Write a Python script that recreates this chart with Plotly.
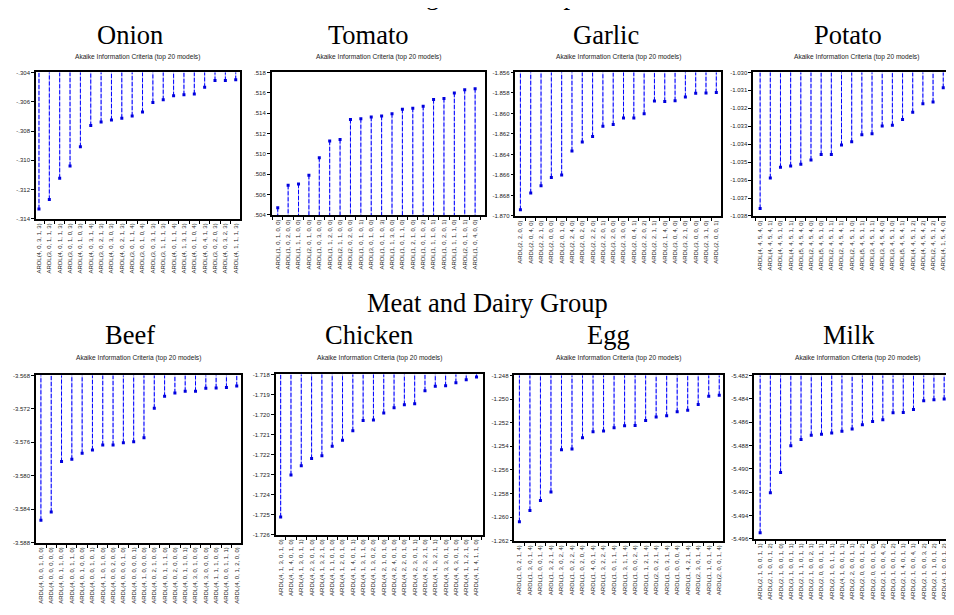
import plotly.graph_objects as go

W, H = 954, 615

# ---------------- data ----------------
onion_labels = ["ARDL(4, 0, 3, 1, 3)", "ARDL(3, 0, 1, 1, 3)", "ARDL(4, 0, 1, 1, 3)", "ARDL(3, 0, 1, 0, 3)",
                "ARDL(4, 0, 1, 0, 3)", "ARDL(4, 0, 3, 1, 4)", "ARDL(3, 0, 2, 1, 3)", "ARDL(4, 0, 3, 0, 3)",
                "ARDL(4, 0, 2, 1, 3)", "ARDL(3, 0, 1, 1, 4)", "ARDL(3, 0, 1, 0, 4)", "ARDL(3, 0, 3, 1, 3)",
                "ARDL(3, 1, 1, 1, 3)", "ARDL(4, 0, 1, 1, 4)", "ARDL(4, 1, 3, 1, 3)", "ARDL(4, 0, 1, 0, 4)",
                "ARDL(4, 0, 4, 1, 3)", "ARDL(3, 0, 2, 0, 3)", "ARDL(4, 0, 3, 2, 3)", "ARDL(4, 1, 1, 1, 3)"]
onion_aic = [-0.31332, -0.31267, -0.31122, -0.31039, -0.30908, -0.30763, -0.30739, -0.30725, -0.30712, -0.30698,
             -0.30671, -0.30605, -0.30587, -0.30560, -0.30553, -0.30547, -0.30502, -0.30456, -0.30456, -0.30450]
onion_yticks = ["-.314", "-.312", "-.310", "-.308", "-.306", "-.304"]

tomato_labels = ["ARDL(1, 0, 1, 0, 0)", "ARDL(1, 0, 2, 0, 0)", "ARDL(1, 1, 1, 0, 0)", "ARDL(2, 0, 1, 0, 0)",
                 "ARDL(1, 0, 3, 0, 0)", "ARDL(1, 1, 2, 0, 0)", "ARDL(2, 1, 1, 0, 0)", "ARDL(2, 0, 2, 0, 0)",
                 "ARDL(1, 0, 1, 0, 1)", "ARDL(3, 0, 1, 0, 0)", "ARDL(1, 0, 1, 0, 3)", "ARDL(1, 1, 3, 0, 0)",
                 "ARDL(1, 0, 1, 1, 0)", "ARDL(1, 2, 1, 0, 0)", "ARDL(1, 0, 1, 0, 2)", "ARDL(1, 1, 1, 0, 1)",
                 "ARDL(1, 0, 2, 0, 1)", "ARDL(1, 1, 1, 1, 0)", "ARDL(2, 0, 1, 0, 1)", "ARDL(1, 0, 4, 0, 0)"]
tomato_aic = [0.50471, 0.50692, 0.50705, 0.50790, 0.50962, 0.51127, 0.51140, 0.51338, 0.51345, 0.51361,
              0.51371, 0.51394, 0.51439, 0.51449, 0.51468, 0.51533, 0.51543, 0.51598, 0.51630, 0.51640]
tomato_yticks = [".504", ".506", ".508", ".510", ".512", ".514", ".516", ".518"]

garlic_labels = ["ARDL(2, 2, 0, 0)", "ARDL(2, 0, 4, 0)", "ARDL(2, 2, 1, 0)", "ARDL(2, 0, 0, 0)",
                 "ARDL(2, 0, 1, 0)", "ARDL(2, 2, 4, 0)", "ARDL(2, 0, 2, 0)", "ARDL(2, 2, 2, 0)",
                 "ARDL(2, 2, 0, 1)", "ARDL(3, 2, 0, 0)", "ARDL(2, 3, 0, 0)", "ARDL(2, 0, 4, 1)",
                 "ARDL(2, 2, 0, 2)", "ARDL(2, 2, 1, 1)", "ARDL(2, 1, 4, 0)", "ARDL(3, 0, 4, 0)",
                 "ARDL(3, 2, 1, 0)", "ARDL(3, 0, 0, 0)", "ARDL(2, 3, 1, 0)", "ARDL(2, 0, 0, 1)"]
garlic_aic = [-1.86939, -1.86775, -1.86704, -1.86624, -1.86601, -1.86366, -1.86279, -1.86224, -1.86125, -1.86109,
              -1.86044, -1.86044, -1.86002, -1.85880, -1.85883, -1.85877, -1.85841, -1.85803, -1.85800, -1.85796]
garlic_yticks = ["-1.870", "-1.868", "-1.866", "-1.864", "-1.862", "-1.860", "-1.858", "-1.856"]

potato_labels = ["ARDL(4, 4, 5, 4, 0)", "ARDL(4, 4, 5, 4, 1)", "ARDL(4, 4, 5, 1, 0)", "ARDL(4, 4, 5, 1, 1)",
                 "ARDL(5, 4, 5, 4, 0)", "ARDL(2, 4, 5, 4, 0)", "ARDL(5, 4, 5, 1, 0)", "ARDL(2, 4, 5, 1, 1)",
                 "ARDL(2, 4, 5, 4, 1)", "ARDL(2, 4, 5, 1, 0)", "ARDL(5, 4, 5, 1, 1)", "ARDL(3, 4, 5, 1, 1)",
                 "ARDL(3, 4, 5, 4, 0)", "ARDL(3, 4, 5, 1, 0)", "ARDL(5, 4, 5, 4, 1)", "ARDL(4, 4, 5, 1, 2)",
                 "ARDL(4, 4, 5, 4, 2)", "ARDL(2, 4, 5, 1, 2)", "ARDL(4, 1, 5, 4, 0)", "ARDL(3, 4, 5, 1, 2)"]
potato_aic = [-1.03758, -1.03588, -1.03529, -1.03521, -1.03512, -1.03488, -1.03458, -1.03457, -1.03405, -1.03386,
              -1.03347, -1.03342, -1.03299, -1.03294, -1.03262, -1.03222, -1.03174, -1.03165, -1.03085, -1.03057]
potato_yticks = ["-1.038", "-1.037", "-1.036", "-1.035", "-1.034", "-1.033", "-1.032", "-1.031", "-1.030"]

beef_labels = ["ARDL(4, 0, 0, 1, 0, 0)", "ARDL(4, 0, 0, 0, 0, 0)", "ARDL(4, 0, 1, 1, 0, 0)", "ARDL(4, 0, 0, 1, 1, 0)",
               "ARDL(4, 0, 1, 0, 0, 0)", "ARDL(4, 0, 0, 1, 0, 1)", "ARDL(4, 1, 0, 1, 0, 0)", "ARDL(4, 0, 0, 2, 0, 0)",
               "ARDL(4, 0, 0, 0, 1, 0)", "ARDL(4, 0, 0, 0, 0, 1)", "ARDL(4, 1, 0, 0, 0, 0)", "ARDL(4, 0, 2, 1, 0, 0)",
               "ARDL(4, 0, 1, 1, 1, 0)", "ARDL(4, 0, 2, 0, 0, 0)", "ARDL(4, 0, 1, 1, 0, 1)", "ARDL(4, 3, 0, 1, 0, 0)",
               "ARDL(4, 3, 0, 0, 0, 0)", "ARDL(4, 1, 1, 1, 0, 0)", "ARDL(4, 0, 0, 1, 1, 1)", "ARDL(4, 0, 1, 2, 0, 0)"]
beef_aic = [-3.58531, -3.58432, -3.57830, -3.57802, -3.57731, -3.57691, -3.57632, -3.57632, -3.57604, -3.57592,
            -3.57545, -3.57192, -3.57050, -3.57010, -3.56990, -3.56990, -3.56954, -3.56950, -3.56943, -3.56927]
beef_yticks = ["-3.588", "-3.584", "-3.580", "-3.576", "-3.572", "-3.568"]

chicken_labels = ["ARDL(4, 1, 3, 0, 1, 0)", "ARDL(4, 1, 4, 0, 1, 0)", "ARDL(4, 1, 3, 0, 1, 1)", "ARDL(4, 2, 3, 0, 1, 0)",
                  "ARDL(4, 1, 3, 2, 1, 0)", "ARDL(4, 1, 1, 0, 1, 0)", "ARDL(4, 1, 2, 0, 1, 0)", "ARDL(4, 1, 4, 0, 1, 1)",
                  "ARDL(4, 1, 3, 1, 1, 0)", "ARDL(4, 1, 3, 0, 2, 0)", "ARDL(4, 2, 1, 0, 1, 0)", "ARDL(4, 2, 4, 0, 1, 0)",
                  "ARDL(4, 2, 2, 0, 1, 0)", "ARDL(4, 2, 3, 0, 1, 1)", "ARDL(4, 2, 3, 2, 1, 0)", "ARDL(4, 1, 3, 2, 1, 1)",
                  "ARDL(4, 3, 3, 0, 1, 0)", "ARDL(4, 4, 3, 0, 1, 0)", "ARDL(4, 1, 1, 2, 1, 0)", "ARDL(4, 1, 4, 1, 1, 0)"]
chicken_aic = [-1.72511, -1.72301, -1.72256, -1.72219, -1.72206, -1.72158, -1.72128, -1.72081, -1.72030, -1.72027,
               -1.71992, -1.71966, -1.71951, -1.71946, -1.71882, -1.71859, -1.71857, -1.71841, -1.71826, -1.71813]
chicken_yticks = ["-1.726", "-1.725", "-1.724", "-1.723", "-1.722", "-1.721", "-1.720", "-1.719", "-1.718"]

egg_labels = ["ARDL(1, 0, 2, 1, 4)", "ARDL(1, 3, 0, 1, 4)", "ARDL(1, 0, 0, 1, 4)", "ARDL(1, 3, 2, 1, 4)",
              "ARDL(1, 3, 0, 2, 4)", "ARDL(1, 0, 2, 2, 4)", "ARDL(1, 0, 2, 0, 4)", "ARDL(1, 4, 0, 1, 4)",
              "ARDL(1, 3, 2, 2, 4)", "ARDL(1, 0, 1, 1, 4)", "ARDL(1, 3, 1, 1, 4)", "ARDL(1, 0, 0, 2, 4)",
              "ARDL(1, 1, 2, 1, 4)", "ARDL(2, 0, 2, 1, 4)", "ARDL(1, 0, 3, 1, 4)", "ARDL(1, 0, 0, 0, 4)",
              "ARDL(1, 4, 2, 1, 4)", "ARDL(2, 3, 0, 1, 4)", "ARDL(1, 1, 0, 1, 4)", "ARDL(2, 0, 0, 1, 4)"]
egg_aic = [-1.26038, -1.25943, -1.25859, -1.25786, -1.25430, -1.25422, -1.25327, -1.25276, -1.25271, -1.25243,
           -1.25226, -1.25223, -1.25181, -1.25153, -1.25142, -1.25108, -1.25094, -1.25046, -1.24976, -1.24968]
egg_yticks = ["-1.262", "-1.260", "-1.258", "-1.256", "-1.254", "-1.252", "-1.250", "-1.248"]

milk_labels = ["ARDL(2, 1, 0, 0, 1, 1)", "ARDL(2, 1, 0, 0, 1, 2)", "ARDL(2, 1, 0, 0, 1, 0)", "ARDL(3, 1, 0, 0, 1, 1)",
               "ARDL(2, 1, 1, 0, 1, 1)", "ARDL(2, 1, 0, 0, 2, 1)", "ARDL(2, 0, 0, 0, 1, 1)", "ARDL(2, 1, 0, 1, 1, 1)",
               "ARDL(4, 1, 0, 0, 1, 1)", "ARDL(2, 2, 0, 0, 1, 1)", "ARDL(2, 0, 0, 0, 1, 2)", "ARDL(2, 0, 0, 0, 1, 0)",
               "ARDL(2, 1, 0, 0, 4, 2)", "ARDL(3, 1, 0, 0, 1, 2)", "ARDL(2, 1, 4, 0, 1, 1)", "ARDL(2, 1, 0, 0, 4, 1)",
               "ARDL(2, 1, 0, 0, 3, 2)", "ARDL(2, 1, 1, 0, 1, 2)", "ARDL(4, 1, 0, 0, 1, 2)", "ARDL(2, 1, 0, 0, 3, 1)"]
milk_aic = [-5.49549, -5.49206, -5.49031, -5.48803, -5.48749, -5.48713, -5.48704, -5.48693, -5.48679, -5.48659,
            -5.48623, -5.48594, -5.48580, -5.48521, -5.48518, -5.48493, -5.48417, -5.48408, -5.48403, -5.48400]
milk_yticks = ["-5.496", "-5.494", "-5.492", "-5.490", "-5.488", "-5.486", "-5.484", "-5.482"]

panel_names = ["Onion", "Tomato", "Garlic", "Potato", "Beef", "Chicken", "Egg", "Milk"]
panel_labels = [onion_labels, tomato_labels, garlic_labels, potato_labels,
                beef_labels, chicken_labels, egg_labels, milk_labels]
panel_values = [onion_aic, tomato_aic, garlic_aic, potato_aic,
                beef_aic, chicken_aic, egg_aic, milk_aic]
panel_yticks = [onion_yticks, tomato_yticks, garlic_yticks, potato_yticks,
                beef_yticks, chicken_yticks, egg_yticks, milk_yticks]
group_titles = ["Vegetable Group", "Meat and Dairy Group"]
subtitle = "Akaike Information Criteria (top 20 models)"

# ---------------- layout (pixel boxes of each plot area) ----------------
boxes = [  # left, right, top, bottom
    (28, 232, 62, 210), (264, 478, 62, 206), (508, 714, 62, 207), (746, 952, 62, 207),
    (28, 233, 368, 537), (268, 475, 367, 529), (507, 716, 368, 535), (747, 953, 368, 533),
]
xranges = [(-0.29, 19.39), (-0.58, 20.0), (-0.48, 19.48), (-0.68, 19.55),
           (-0.48, 19.39), (-0.48, 19.58), (-0.47, 19.38), (-0.58, 19.55)]
title_centers = [(122, 24), (361, 24), (599, 24), (841, 24),
                 (122, 327), (361, 327), (601, 327), (842, 327)]
sub_y = [46, 46, 46, 46, 350, 350, 350, 350]

serif = "Liberation Serif, Times New Roman, serif"
sans = "Liberation Sans, Arial, sans-serif"

fig = go.Figure()
layout = dict(width=W, height=H, margin=dict(l=0, r=0, t=0, b=0),
              paper_bgcolor="white", plot_bgcolor="white", showlegend=False)
annotations = []

for k in range(8):
    sfx = "" if k == 0 else str(k + 1)
    labels = panel_labels[k]
    vals = panel_values[k]
    xs = list(range(len(labels)))
    lx, ly = [], []
    for xi, v in zip(xs, vals):
        lx += [xi, xi, None]
        ly += [v, 0.0, None]
    # light base of dashed dropline
    fig.add_trace(go.Scatter(x=lx, y=ly, mode="lines", line=dict(color="#a8a8ff", width=1),
                             xaxis="x" + sfx, yaxis="y" + sfx, hoverinfo="skip"))
    fig.add_trace(go.Scatter(x=lx, y=ly, mode="lines", line=dict(color="#0000ff", width=1, dash="4px,2px"),
                             xaxis="x" + sfx, yaxis="y" + sfx, hoverinfo="skip"))
    fig.add_trace(go.Scatter(x=xs, y=vals, mode="markers",
                             marker=dict(symbol="square", size=3, color="#0000dd", line=dict(width=0)),
                             xaxis="x" + sfx, yaxis="y" + sfx))

    l, r, t, b = boxes[k]
    yt = panel_yticks[k]
    ytv = [float(s) for s in yt]
    layout["xaxis" + sfx] = dict(
        domain=[l / W, r / W], anchor="y" + sfx, range=list(xranges[k]),
        tickmode="array", tickvals=xs, ticktext=labels, tickangle=-90,
        ticks="", tickfont=dict(family=sans, size=6, color="#222"),
        minor=dict(tickmode="array", tickvals=[i - 0.5 for i in range(len(labels) + 1)],
                   ticks="outside", ticklen=3, tickcolor="black", tickwidth=1),
        showline=True, linecolor="black", linewidth=2, mirror=True,
        showgrid=False, zeroline=False, fixedrange=True)
    layout["yaxis" + sfx] = dict(
        domain=[1 - b / H, 1 - t / H], anchor="x" + sfx, range=[min(ytv), max(ytv)],
        tickmode="array", tickvals=ytv, ticktext=yt,
        ticks="outside", ticklen=3, tickcolor="black", tickwidth=1,
        tickfont=dict(family=sans, size=6, color="#222"),
        showline=True, linecolor="black", linewidth=1.5, mirror=True,
        showgrid=False, zeroline=False, fixedrange=True)

    cx, cy = title_centers[k]
    annotations.append(dict(text=panel_names[k], x=cx / W, y=1 - cy / H, xref="paper", yref="paper",
                            xanchor="center", yanchor="middle", showarrow=False,
                            font=dict(family=serif, size=26.5, color="black")))
    annotations.append(dict(text=subtitle, x=((l + r) / 2) / W, y=1 - sub_y[k] / H, xref="paper", yref="paper",
                            xanchor="center", yanchor="middle", showarrow=False,
                            font=dict(family=sans, size=6.6, color="#222")))

annotations.append(dict(text=group_titles[0], x=480 / W, y=1 + 16 / H, xref="paper", yref="paper",
                        xanchor="center", yanchor="middle", showarrow=False,
                        font=dict(family=serif, size=26.5, color="black")))
annotations.append(dict(text=group_titles[1], x=480 / W, y=1 - 295 / H, xref="paper", yref="paper",
                        xanchor="center", yanchor="middle", showarrow=False,
                        font=dict(family=serif, size=26.5, color="black")))
layout["annotations"] = annotations
fig.update_layout(**layout)
fig.write_html("out.html")
